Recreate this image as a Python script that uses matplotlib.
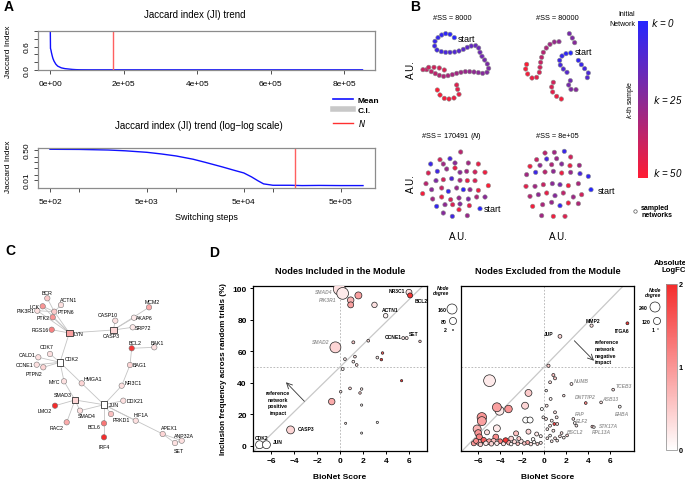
import numpy as np
import matplotlib
matplotlib.use('Agg')
import matplotlib.pyplot as plt
from matplotlib.colors import LinearSegmentedColormap, Normalize
from matplotlib.cm import ScalarMappable
from matplotlib.lines import Line2D
from matplotlib.ticker import FixedLocator, NullLocator

plt.rcParams['font.family'] = ['Liberation Sans', 'DejaVu Sans']

# ---------------- DATA ----------------
# Panel A: Jaccard index trend
steps = [0, 500, 1000, 2000, 3000, 5000, 7000, 10000, 15000, 20000, 30000, 40000,
         50000, 60000, 70000, 80000, 100000, 150000, 200000, 300000, 500000, 850000]
ji_mean = [1.0, 0.55, 0.54, 0.50, 0.45, 0.37, 0.30, 0.23, 0.15, 0.10, 0.055, 0.035,
           0.025, 0.015, 0.009, 0.006, 0.005, 0.005, 0.0048, 0.0049, 0.0048, 0.0048]
n_opt = 170491

# Panel B: sampled networks (A.U. coordinates, k = sample index)
ss8000_x = [283,270,257,245,234,225,224,231,244,257,270,284,297,310,322,334,347,356,360,366,
            374,382,386,381,368,355,342,329,316,303,290,277,264,251,238,226,214,200,189,206,
            222,238,253,290,293,297,282,267,253,240,232]
ss8000_y = [116,106,104,108,116,127,141,153,158,160,160,159,156,151,145,141,140,147,160,172,
            183,195,208,220,223,221,219,218,218,220,223,227,230,232,229,224,218,212,212,205,
            205,207,213,258,271,286,297,300,298,288,273]
ss8000_k = list(range(51))

ss80000_x = [632,618,606,599,601,610,621,655,664,674,685,682,628,637,644,631,626,633,648,
             580,575,578,590,604,597,583,570,559,550,545,542,540,538,530,516,503,497,500]
ss80000_y = [162,164,171,184,198,210,220,184,197,209,222,236,104,117,131,245,258,271,272,
             250,264,279,292,300,128,129,136,147,160,175,190,205,220,235,237,225,210,196]
ss80000_k = [0,2,4,6,8,10,12,3,5,7,9,11,20,22,24,18,20,22,24,
             40,42,44,46,48,26,28,30,32,34,36,38,40,42,44,46,48,49,50]

ssN_x = [302,240,270,212,250,285,325,355,205,232,260,285,300,320,345,375,228,250,275,300,322,345,385,198,
         188,215,245,265,290,310,330,355,218,245,272,297,325,350,375,230,255,278,300,328,360,250,277,297,322]
ssN_y = [127,150,147,163,163,160,160,163,190,185,178,175,188,185,187,188,213,210,207,212,213,213,228,222,
         252,240,235,245,235,240,240,242,268,262,270,265,268,262,262,290,285,285,283,288,297,310,320,300,318]
ssN_k = [35,40,8,5,30,25,30,45,42,6,28,45,25,30,40,47,22,40,10,32,45,42,50,35,
         48,25,38,4,28,2,26,46,30,44,40,27,22,33,25,3,26,42,24,44,0,24,7,46,28]

ss8e5_x = [555,583,613,530,560,590,632,510,540,575,605,630,658,500,527,555,580,605,632,660,685,
           498,525,550,577,600,625,655,693,510,535,560,585,610,640,665,518,548,575,600,625,655,545,580,615]
ss8e5_y = [130,128,125,150,148,147,142,170,167,165,163,168,167,195,188,187,185,190,188,192,200,
           230,230,225,222,225,228,222,240,260,255,250,258,250,262,255,290,285,278,288,280,282,318,320,320]
ss8e5_k = [35,30,5,38,8,28,40,47,27,33,24,45,30,30,6,35,26,46,28,9,3,
           44,30,38,25,20,48,32,0,34,26,45,24,36,29,40,48,32,28,4,46,33,30,47,43]

# Panel C: module network
c_nodes = ['BCR','ACTN1','LCK','PIK3R1','PTPN6','PTK2','RGS16','LYN','CASP10','CASP3','AKAP6',
           'MCM2','SRP72','BCL2','BAK1','BAG1','NR3C1','CDK2','CDK7','CALD1','CCNE1','PTPN2',
           'MYC','HMGA1','SMAD3','LMO2','SMAD4','RAC2','JUN','DDX21','PRKD1','BCL6','IRF4',
           'HIF1A','APEX1','ANP32A','SET']
c_x = [47.3,61,42.7,37.3,54.3,52.7,51.7,69.3,115.3,113.3,134,149,132.7,131.7,154.3,130,121.7,
       60,50,38.3,36.7,43.3,64,81.7,75,55,80,66.7,104,123.3,111,104,104,135.7,162.7,181.7,175]
c_y = [299.3,306,307.3,311.7,312.7,318.3,330.7,334,321.7,331,318.7,308.3,328.3,349.3,348.3,366,
       386.7,363.3,355,358.3,365.7,368.3,382.3,384.3,401,406.7,411.7,423.3,405.7,401.7,415,424.3,
       438.3,421.7,435,441.7,444]
c_lfc = [0.5,0.3,1.0,0.3,0.5,1.0,1.2,0.9,0.3,0.4,0.2,0.8,0.2,1.9,0.3,0.4,0.3,0.0,0.3,0.3,0.3,0.4,
         0.3,0.4,0.4,2.0,0.3,0.8,0.0,0.3,0.6,1.3,2.0,0.3,0.4,0.3,0.3]
c_hubs = ['LYN','CASP3','CDK2','SMAD3','JUN']
c_edges = [('PIK3R1','LYN'),('LCK','LYN'),('PTK2','LYN'),('PTPN6','LYN'),('BCR','PTPN6'),
           ('ACTN1','PTPN6'),('LCK','PTPN6'),('PIK3R1','PTPN6'),('RGS16','LYN'),('LYN','CASP3'),
           ('LYN','CDK2'),('CASP10','CASP3'),('AKAP6','CASP3'),('MCM2','CASP3'),('SRP72','CASP3'),
           ('BCL2','BAK1'),('BCL2','BAG1'),('BAG1','NR3C1'),('NR3C1','JUN'),('CDK7','CDK2'),
           ('CALD1','CDK2'),('CCNE1','CDK2'),('PTPN2','CDK2'),('CDK2','MYC'),('MYC','SMAD3'),
           ('CDK2','HMGA1'),('HMGA1','JUN'),('SMAD3','JUN'),('SMAD3','LMO2'),('SMAD3','SMAD4'),
           ('SMAD4','JUN'),('SMAD3','RAC2'),('JUN','DDX21'),('JUN','PRKD1'),('JUN','BCL6'),
           ('BCL6','IRF4'),('JUN','HIF1A'),('JUN','APEX1'),('APEX1','ANP32A'),('APEX1','SET'),
           ('ANP32A','SET')]

# Panel D: included nodes
inc_label = ['SMAD4','PIK3R1','NR3C1','BCL2','ACTN1','SMAD2','CCNE1','SET','CASP3','CDK2','JUN',
             '','','','','','','','','','','','','','','','','','','','','','','','','']
inc_score = [-0.06,0.23,6.0,6.1,3.97,-0.4,5.5,5.8,-4.3,-7.0,-6.4,
             1.6,0.93,0.93,3.0,1.16,2.46,6.96,3.7,3.25,3.6,0.43,1.3,1.16,1.45,0.23,5.36,0.87,
             1.88,1.74,0.06,-0.72,1.88,0.49,3.25,1.88]
inc_freq = [99.6,96.8,97.5,95.5,82.6,62.5,68.4,68.4,10.0,0.6,0.6,
            95.5,92.5,89.5,89.5,65.7,66.7,66.3,58.9,56.0,54.7,55.0,56.6,53.4,51.3,48.7,41.3,36.4,
            36.0,33.5,34.3,28.0,25.8,14.2,14.8,8.0]
inc_degree = [230,220,57,40,32,190,14,14,100,100,100,
              78,67,57,48,14,12,10,10,12,10,12,12,12,12,14,8,12,10,10,10,67,8,7,8,7]
inc_lfc = [0.3,0.2,0.3,1.9,0.1,0.4,0.2,0.2,0.4,0.0,0.0,
           0.9,0.7,0.9,0.3,0.5,0.3,0.5,1.5,0.2,1.9,0.2,0.3,0.2,0.3,0.1,1.9,0.4,0.2,0.5,0.2,0.8,
           0.1,0.2,0.1,0.1]

# Panel D: excluded nodes
exc_label = ['ITGA6','MMP2','JUP','NUMB','TCEB3','DNTTIP2','ASB13','EHBA','FAP','ELF2','BSCL2',
             'STK17A','RPL13A']
exc_score = [7.6,4.33,1.45,2.5,6.3,3.8,5.2,6.9,2.67,2.8,2.95,4.4,4.55,
             -4.97,-1.42,-4.3,-4.06,-3.24,-1.73,-5.67,-5.67,-1.67,-1.27,-6.1,-4.3,-2.55,-1.42,-0.67,
             -5.2,-5.9,-6.2,-5.9,-5.5,-5.3,-5.0,-4.8,-4.6,-4.3,-4.0,-3.7,-3.5,-3.2,-3.0,-2.7,-2.4,
             -2.1,-1.8,-1.5,-1.2,-0.9,-0.6,-0.3,-5.8,-6.4,-2.3,-1.0,-0.3,-4.4,-3.0,-6.0,
             0.4,0.85,1.0,0.55,0.2,1.8,0.6,-0.2,0.24,1.0,1.15,0.7,0.18,1.2,0.85,0.55,0.3,1.0,1.2,
             1.45,1.8,0.7,-0.06,0.55,0.94,0.3,1.6,2.1]
exc_freq = [77.8,76.3,69.5,39.2,35.6,27.1,27.5,24.8,17.0,14.4,12.7,12.1,11.8,
            41.3,33.5,24.4,22.2,23.3,25.4,18.0,15.6,16.3,16.3,10.6,11.0,7.8,8.9,7.4,
            8.5,5.5,3.0,2.0,3.5,1.5,2.5,1.2,3.0,1.5,2.8,1.2,3.3,1.8,1.0,2.5,1.2,
            2.8,1.4,2.0,1.0,2.2,1.1,1.8,0.8,1.5,4.5,4.0,6.0,5.5,4.5,8.0,
            50.8,44.9,42.8,40.3,35.0,31.8,29.7,23.3,25.4,21.2,18.0,15.9,17.0,13.8,9.5,6.4,4.7,4.7,3.2,
            5.9,5.1,2.8,18.0,12.7,13.8,10.5,8.0,6.5]
exc_degree = [20,25,35,20,18,18,18,20,18,18,18,18,15,
              330,115,190,190,135,115,215,190,86,86,153,115,60,60,38,
              60,90,60,90,70,50,80,50,60,45,55,38,70,45,30,40,30,45,30,38,30,25,22,22,45,60,38,30,22,
              80,55,110,
              25,22,22,20,15,15,20,22,20,20,20,20,20,20,20,18,18,18,18,18,18,18,20,20,20,18,18,18]
exc_lfc = [1.9,0.3,0.4,0.2,0.3,1.2,0.3,0.1,0.2,0.1,0.2,0.6,0.1,
           0.2,0.5,0.9,0.2,1.0,0.4,1.0,0.9,0.0,0.0,0.7,0.2,0.6,0.4,0.2,
           0.3,1.2,1.1,0.8,1.5,0.2,0.9,0.4,0.6,0.2,1.3,0.3,1.9,0.8,0.1,0.4,0.6,0.2,0.5,0.9,0.3,0.1,
           0.4,0.2,0.5,1.0,0.5,0.0,0.1,1.1,0.4,1.0,
           0.5,0.6,0.5,0.3,0.1,0.3,0.1,0.0,0.2,0.3,0.2,0.1,0.2,0.3,0.2,0.1,0.2,0.3,0.2,0.3,0.1,0.2,
           0.1,0.2,1.8,0.2,0.3,0.4]

# ---------------- FIGURE ----------------
W, H = 685, 481
fig = plt.figure(figsize=(W / 100, H / 100), dpi=100)


def px_axes(x0, y0, x1, y1, **kw):
    return fig.add_axes([x0 / W, 1 - y1 / H, (x1 - x0) / W, (y1 - y0) / H], **kw)


def ftext(x, y, s, **kw):
    return fig.text(x / W, 1 - y / H, s, **kw)


overlay = px_axes(0, 0, W, H)
overlay.set_xlim(0, W)
overlay.set_ylim(H, 0)
overlay.axis('off')

for lab, x, y in [('A', 4, 7), ('B', 410, 7), ('C', 5, 251), ('D', 209, 253)]:
    ftext(x, y, lab, fontsize=10, fontweight='bold', ha='left', va='center')

# ---------- Panel A ----------
BOXGREY = '#8c8c8c'


def r_style(ax):
    for sp in ax.spines.values():
        sp.set_color(BOXGREY)
        sp.set_linewidth(0.9)
    ax.tick_params(length=3, width=0.6, labelsize=6, pad=2, color='#333333')


axA1 = px_axes(38, 32, 375, 71)
r_style(axA1)
axA1.plot(steps, ji_mean, color='#1010ff', lw=1.0)
axA1.axvline(n_opt, color='#ff6060', lw=1.0)
axA1.set_xlim(-33500, 884000)
axA1.set_ylim(0, 1.0)
axA1.set_xticks([0, 200000, 400000, 600000, 800000])
axA1.set_xticklabels(['0e+00', '2e+05', '4e+05', '6e+05', '8e+05'])
axA1.set_yticks([0, 0.2, 0.4, 0.6, 0.8, 1.0])
axA1.set_yticklabels(['0.0', '', '', '0.6', '', ''], rotation=90, va='center')
axA1.tick_params(axis='x', pad=4)
ftext(195, 15, 'Jaccard index (JI) trend', fontsize=7, ha='center', va='center')
ftext(9, 52, 'Jaccard Index', fontsize=6, rotation=90, ha='center', va='center')

axA2 = px_axes(38, 149, 375, 189)
r_style(axA2)
pos = [i for i, s in enumerate(steps) if s > 0]
axA2.plot([steps[i] for i in pos], [ji_mean[i] for i in pos], color='#1010ff', lw=1.0)
axA2.axvline(n_opt, color='#ff6060', lw=1.0)
axA2.set_xscale('log')
axA2.set_yscale('log')
axA2.set_xlim(376, 1.13e6)
axA2.set_ylim(0.0035, 0.65)
axA2.xaxis.set_major_locator(FixedLocator([500, 1000, 5000, 1e4, 5e4, 1e5, 5e5]))
axA2.xaxis.set_minor_locator(NullLocator())
axA2.set_xticklabels(['5e+02', '', '5e+03', '', '5e+04', '', '5e+05'])
axA2.yaxis.set_major_locator(FixedLocator([0.01, 0.02, 0.05, 0.1, 0.2, 0.5]))
axA2.yaxis.set_minor_locator(NullLocator())
axA2.set_yticklabels(['0.01', '', '', '', '', '0.50'], rotation=90, va='center')
axA2.tick_params(axis='x', pad=4)
ftext(199, 126, 'Jaccard index (JI) trend (log\u2212log scale)', fontsize=7, ha='center', va='center')
ftext(9, 167, 'Jaccard Index', fontsize=6, rotation=90, ha='center', va='center')
ftext(206, 218, 'Switching steps', fontsize=6.5, ha='center', va='center')

handles = [Line2D([], [], color='#1010ff', lw=1.2),
           Line2D([], [], color='#c8c8c8', lw=4),
           Line2D([], [], color='#ff3030', lw=1.0)]
leg = fig.legend(handles, ['Mean', 'C.I.', '$N$'], loc='upper left',
                 bbox_to_anchor=(333 / W, 1 - 97 / H), frameon=False, fontsize=6,
                 handlelength=2.4, handletextpad=0.6, labelspacing=0.3, borderaxespad=0,
                 borderpad=0)
for t in leg.get_texts()[:2]:
    t.set_fontweight('bold')

# ---------- Panel B ----------
cmap_k = LinearSegmentedColormap.from_list('kcol', ['#2626ff', '#8a2a96', '#ff1c34'])
norm_k = Normalize(0, 50)

b_panels = [
    ((420, 30, 495, 103), (180, 405), (309, 90), ss8000_x, ss8000_y, ss8000_k, '#SS = 8000', 452, 19, (292, 118)),
    ((522, 30, 597, 103), (486, 711), (309, 90), ss80000_x, ss80000_y, ss80000_k, '#SS = 80000', 557, 19, (643, 158)),
    ((420, 148, 495, 222), (180, 405), (334, 112), ssN_x, ssN_y, ssN_k, '#SS = 170491 ($N$)', 452, 136, (372, 297)),
    ((522, 148, 597, 222), (486, 711), (334, 112), ss8e5_x, ss8e5_y, ss8e5_k, '#SS = 8e+05', 557, 136, (712, 242)),
]
for box, xl, yl, xs, ys, ks, title, tx, ty, st in b_panels:
    ax = px_axes(*box)
    ax.scatter(xs, ys, c=ks, cmap=cmap_k, norm=norm_k, s=10, edgecolors='#8a8a8a',
               linewidths=0.4, zorder=3)
    ax.set_xlim(*xl)
    ax.set_ylim(*yl)
    ax.axis('off')
    ax.text(st[0], st[1], 'start', fontsize=6.5, ha='left', va='center', zorder=4)
    ftext(tx, ty, title, fontsize=5.3, ha='center', va='center')

ftext(411, 70, 'A.U.', fontsize=7, rotation=90, ha='center', va='center')
ftext(411, 184, 'A.U.', fontsize=7, rotation=90, ha='center', va='center')
ftext(458, 237, 'A.U.', fontsize=7, ha='center', va='center')
ftext(558, 237, 'A.U.', fontsize=7, ha='center', va='center')

caxB = px_axes(638, 22, 648, 179)
cbB = fig.colorbar(ScalarMappable(norm=norm_k, cmap=cmap_k), cax=caxB)
caxB.invert_yaxis()
cbB.outline.set_visible(False)
caxB.set_yticks([])
ftext(635, 15, 'Initial', fontsize=5, ha='right', va='center')
ftext(635, 25, 'Network', fontsize=5, ha='right', va='center')
ftext(651, 23, '$k$ = 0', fontsize=7, ha='left', va='center', style='italic')
ftext(653, 100, '$k$ = 25', fontsize=7, ha='left', va='center', style='italic')
ftext(653, 173, '$k$ = 50', fontsize=7, ha='left', va='center', style='italic')
ftext(630, 100, '$k$-th sample', fontsize=5, rotation=90, ha='center', va='center')
overlay.scatter([635], [212], s=6, facecolors='white', edgecolors='#555555', linewidths=0.5)
ftext(641, 212, 'sampled\nnetworks', fontsize=5, ha='left', va='center', fontweight='bold',
      linespacing=1.0)

# ---------- Panel C ----------
cmap_fc = LinearSegmentedColormap.from_list('fc', ['#ffffff', '#f42c2c'])
norm_fc = Normalize(0, 2)

axC = px_axes(0, 250, 200, 480)
axC.set_xlim(0, 200)
axC.set_ylim(480, 250)
axC.axis('off')
idx = {n: i for i, n in enumerate(c_nodes)}
for a, b in c_edges:
    axC.plot([c_x[idx[a]], c_x[idx[b]]], [c_y[idx[a]], c_y[idx[b]]], color='#c4c4c4', lw=0.6, zorder=1)
circ = [i for i, n in enumerate(c_nodes) if n not in c_hubs]
sq = [i for i, n in enumerate(c_nodes) if n in c_hubs]
axC.scatter([c_x[i] for i in circ], [c_y[i] for i in circ], c=[c_lfc[i] for i in circ],
            cmap=cmap_fc, norm=norm_fc, s=15, edgecolors='#777777', linewidths=0.4, zorder=3)
axC.scatter([c_x[i] for i in sq], [c_y[i] for i in sq], c=[c_lfc[i] for i in sq],
            cmap=cmap_fc, norm=norm_fc, s=25, marker='s', edgecolors='#333333', linewidths=0.6, zorder=3)
c_lab_off = {
    'BCR': (0, -6, 'center'), 'ACTN1': (-1, -5, 'left'), 'LCK': (-3, 0, 'right'),
    'PIK3R1': (-3, 0, 'right'), 'PTPN6': (3, 0, 'left'), 'PTK2': (-3, 0, 'right'),
    'RGS16': (-3, 0, 'right'), 'LYN': (4, 1, 'left'), 'CASP10': (3, -6, 'right'),
    'CASP3': (-2, 6, 'center'), 'AKAP6': (2, 0, 'left'), 'MCM2': (3, -6, 'center'),
    'SRP72': (2, 0, 'left'), 'BCL2': (3, -6, 'center'), 'BAK1': (3, -5, 'center'),
    'BAG1': (3, 0, 'left'), 'NR3C1': (3, -3, 'left'), 'CDK2': (5, -4, 'left'),
    'CDK7': (-3, -7, 'center'), 'CALD1': (-3, -3, 'right'), 'CCNE1': (-3, 0, 'right'),
    'PTPN2': (-1, 6, 'right'), 'MYC': (-4, 0, 'right'), 'HMGA1': (2, -5, 'left'),
    'SMAD3': (-3, -5, 'right'), 'LMO2': (-3, 5, 'right'), 'SMAD4': (-2, 5, 'left'),
    'RAC2': (-3, 5, 'right'), 'JUN': (5, 0, 'left'), 'DDX21': (3, 0, 'left'),
    'PRKD1': (2, 6, 'left'), 'BCL6': (-3, 3, 'right'), 'IRF4': (0, 9, 'center'),
    'HIF1A': (-2, -6, 'left'), 'APEX1': (-2, -6, 'left'), 'ANP32A': (-8, -5, 'left'),
    'SET': (4, 8, 'center'),
}
for n, (dx, dy, ha) in c_lab_off.items():
    i = idx[n]
    axC.text(c_x[i] + dx, c_y[i] + dy, n, fontsize=3.8, ha=ha, va='center', zorder=4)

# ---------- Panel D ----------
YL = (-3.4, 101.5)
K_LEFT = 52 / 160
K_RIGHT = 52 / 240


def d_style(ax, xl):
    ax.set_xlim(*xl)
    ax.set_ylim(*YL)
    for sp in ax.spines.values():
        sp.set_linewidth(0.9)
        sp.set_color('black')
    ax.set_xticks([-6, -4, -2, 0, 2, 4, 6])
    ax.tick_params(length=2.5, width=0.7, labelsize=6, pad=2)
    for t in ax.get_xticklabels() + ax.get_yticklabels():
        t.set_fontweight('bold')
    ax.axvline(0, color='#b0b0b0', lw=0.6, ls=(0, (2, 2)), zorder=0)
    ax.axhline(50, color='#b0b0b0', lw=0.6, ls=(0, (2, 2)), zorder=0)
    ax.axline((0, 50), slope=50 / 7, color='#c8c8c8', lw=0.9, zorder=0)


def d_scatter(ax, xs, ys, deg, lfc, k):
    order = np.argsort(-np.asarray(deg))
    ax.scatter(np.asarray(xs)[order], np.asarray(ys)[order], s=np.asarray(deg)[order] * k,
               c=np.asarray(lfc)[order], cmap=cmap_fc, norm=norm_fc, edgecolors='#222222',
               linewidths=0.5, zorder=3)


axD1 = px_axes(253, 287, 427, 452)
d_style(axD1, (-7.57, 7.57))
axD1.set_yticks([0, 20, 40, 60, 80, 100])
for t in axD1.get_yticklabels():
    t.set_fontweight('bold')
d_scatter(axD1, inc_score, inc_freq, inc_degree, inc_lfc, K_LEFT)
inc_lab_pos = {
    'SMAD4': (-0.64, 98.1, 'right', True), 'PIK3R1': (-0.3, 93.2, 'right', True),
    'NR3C1': (5.65, 98.5, 'right', False), 'BCL2': (6.5, 92.2, 'left', False),
    'ACTN1': (4.35, 86.4, 'center', False), 'SMAD2': (-0.95, 66.1, 'right', True),
    'CCNE1': (5.36, 69.5, 'right', False), 'SET': (6.43, 71.6, 'center', False),
    'CASP3': (-3.7, 10.6, 'left', False), 'CDK2': (-6.8, 5.3, 'center', False),
    'JUN': (-5.8, 2.75, 'left', False),
}
for lab, (x, y, ha, grey) in inc_lab_pos.items():
    axD1.text(x, y, lab, fontsize=3.6, ha=ha, va='center', fontweight='bold',
              color='#9a9a9a' if grey else 'black', style='italic' if grey else 'normal', zorder=5)
axD1.annotate('', xy=(-4.7, 40.3), xytext=(-3.1, 28.2),
              arrowprops=dict(arrowstyle='->', color='#333333', lw=0.6, shrinkA=0, shrinkB=0))
axD1.text(-5.4, 27.5, 'reference\nnetwork\npositive\nimpact', fontsize=3.8, ha='center',
          va='center', fontweight='bold', linespacing=1.4)
axD1.set_title('Nodes Included in the Module', fontsize=6.6, fontweight='bold', pad=9)
axD1.set_xlabel('BioNet Score', fontsize=6, fontweight='bold', labelpad=6)
axD1.set_ylabel('Inclusion frequency across random trials (%)', fontsize=5.8,
                fontweight='bold', labelpad=4)

axD2 = px_axes(461, 287, 634, 452)
d_style(axD2, (-7.57, 8.2))
axD2.set_yticks([])
d_scatter(axD2, exc_score, exc_freq, exc_degree, exc_lfc, K_RIGHT)
exc_lab_pos = {
    'ITGA6': (7.1, 73.5, 'center', False), 'MMP2': (4.5, 79.5, 'center', False),
    'JUP': (0.9, 71.6, 'right', False), 'NUMB': (3.4, 41.7, 'center', True),
    'TCEB3': (7.3, 38.2, 'center', True), 'DNTTIP2': (3.8, 31.1, 'center', True),
    'ASB13': (6.0, 30.1, 'center', True), 'EHBA': (7.1, 20.3, 'center', True),
    'FAP': (3.3, 20.3, 'center', True), 'ELF2': (3.5, 16.3, 'center', True),
    'BSCL2': (2.8, 9.3, 'center', True), 'STK17A': (5.0, 12.5, 'left', True),
    'RPL13A': (5.2, 9.0, 'center', True),
}
for lab, (x, y, ha, grey) in exc_lab_pos.items():
    axD2.text(x, y, lab, fontsize=3.6, ha=ha, va='center', fontweight='bold',
              color='#9a9a9a' if grey else 'black', style='italic' if grey else 'normal', zorder=5)
axD2.annotate('', xy=(4.55, 54.0), xytext=(2.76, 66.7),
              arrowprops=dict(arrowstyle='->', color='#333333', lw=0.6, shrinkA=0, shrinkB=0))
axD2.text(4.64, 59.7, 'reference\nnetwork\nnegative\nimpact', fontsize=3.8, ha='left',
          va='center', fontweight='bold', linespacing=1.4)
axD2.set_title('Nodes Excluded from the Module', fontsize=6.6, fontweight='bold', pad=9)
axD2.set_xlabel('BioNet Score', fontsize=6, fontweight='bold', labelpad=6)

# size legends
leg_left_deg = [160, 80, 2]
leg_right_deg = [240, 120, 1]
overlay.scatter([452, 453, 453], [310, 322, 331], s=np.array(leg_left_deg) * K_LEFT,
                facecolors='white', edgecolors='#222222', linewidths=0.5)
for d, y in zip(leg_left_deg, [310, 322, 331]):
    ftext(447, y, str(d), fontsize=3.8, ha='right', va='center', fontweight='bold')
ftext(449, 291, 'Node\ndegree', fontsize=3.6, ha='right', va='center', style='italic',
      fontweight='bold', linespacing=1.2)
overlay.scatter([655, 657, 658], [308, 322, 330], s=np.array(leg_right_deg) * K_RIGHT,
                facecolors='white', edgecolors='#222222', linewidths=0.5)
for d, y, x in zip(leg_right_deg, [308, 322, 330], [648, 651, 655]):
    ftext(x, y, str(d), fontsize=3.8, ha='right', va='center', fontweight='bold')
ftext(661, 293, 'Node\ndegree', fontsize=3.6, ha='right', va='center', style='italic',
      fontweight='bold', linespacing=1.2)

# colour bar D
caxD = px_axes(666, 285, 677, 451)
cbD = fig.colorbar(ScalarMappable(norm=norm_fc, cmap=cmap_fc), cax=caxD)
cbD.outline.set_edgecolor('#999999')
cbD.outline.set_linewidth(0.6)
cbD.set_ticks([0, 1, 2])
caxD.tick_params(length=0, labelsize=5.2, pad=1)
for t in caxD.get_yticklabels():
    t.set_fontweight('bold')
ftext(670, 267, 'Absolute\nLogFC', fontsize=5.6, ha='center', va='center', fontweight='bold',
      multialignment='right', linespacing=1.1)

fig.savefig('out.png', dpi=100)
